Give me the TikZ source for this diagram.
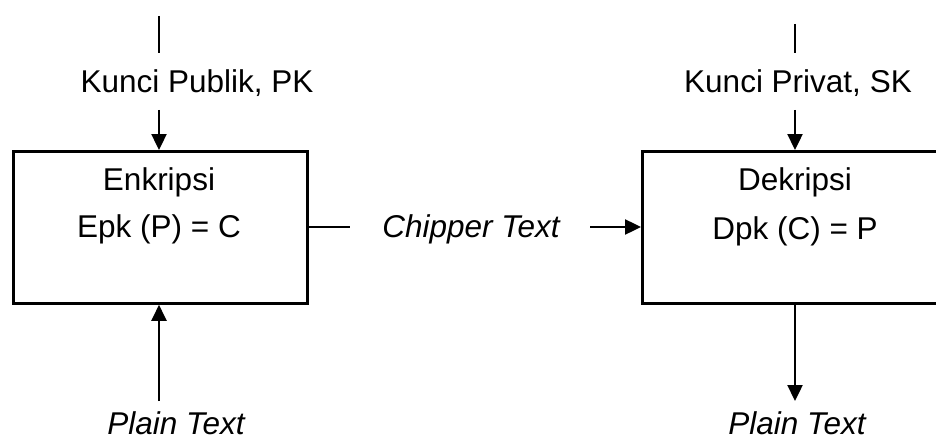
\documentclass[tikz,border=0pt]{standalone}
\usepackage{fontspec}
\setmainfont{Liberation Sans}
\usetikzlibrary{arrows.meta}
\tikzset{
  box/.style={draw, line width=2.8pt, minimum height=152pt, inner sep=0pt, anchor=north west},
  lbl/.style={font=\fontsize{31.5}{38}\selectfont, inner sep=0pt, anchor=base},
  ilbl/.style={lbl, font=\fontsize{31.5}{38}\selectfont\itshape},
  conn/.style={line width=2.4pt},
  arr/.style={conn, -{Triangle[length=16pt,width=15pt]}}
}
\begin{document}
\begin{tikzpicture}[x=1pt,y=-1pt]
\useasboundingbox (0,0) rectangle (936,441);
\clip (0,0) rectangle (936,441);
% boxes
\node[box, minimum width=294pt] (enc) at (12,150) {};
\node[box, minimum width=310pt] (dec) at (641,150) {};
% texts
\node[lbl] (kpub) at (197,93) {Kunci Publik, PK};
\node[lbl] (kpriv) at (798,93) {Kunci Privat, SK};
\node[lbl] (enk) at (159,190) {Enkripsi};
\node[lbl] (epk) at (159,237) {Epk (P) = C};
\node[lbl] (dek) at (795,190) {Dekripsi};
\node[lbl] (dpk) at (795,239) {Dpk (C) = P};
\node[ilbl] (chip) at (471,237) {Chipper Text};
\node[ilbl] (ptl) at (176,434) {Plain Text};
\node[ilbl] (ptr) at (797,434) {Plain Text};
% coordinates
\coordinate (lt1) at (159,16);
\coordinate (lt2) at (159,53);
\coordinate (la1) at (159,110);
\coordinate (lb1) at (159,401);
\coordinate (rt1) at (795,24);
\coordinate (rt2) at (795,53);
\coordinate (ra1) at (795,110);
\coordinate (rb1) at (795,401);
\coordinate (cm1) at (350,227);
\coordinate (cm2) at (590,227);
% connectors
\draw[conn] (lt1) -- (lt2);
\draw[arr] (la1) -- (la1 |- enc.north);
\draw[arr] (lb1) -- (lb1 |- enc.south);
\draw[conn] (enc.east |- cm1) -- (cm1);
\draw[arr] (cm2) -- (dec.west |- cm2);
\draw[conn] (rt1) -- (rt2);
\draw[arr] (ra1) -- (ra1 |- dec.north);
\draw[arr] (rb1 |- dec.south) -- (rb1);
\end{tikzpicture}
\end{document}
